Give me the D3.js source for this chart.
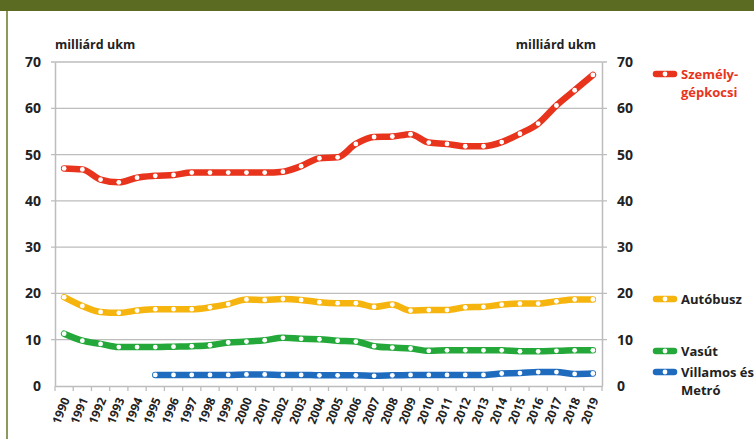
<!DOCTYPE html>
<html>
<head>
<meta charset="utf-8">
<script src="https://cdn.jsdelivr.net/npm/d3@7"></script>
<style>
  body { margin: 0; background: #fff; }
  text { font-family: "Open Sans", "DejaVu Sans", sans-serif; font-weight: 700; }
</style>
</head>
<body>
<div id="chart"></div>
<script>
// years on the x axis
var years = d3.range(1990, 2020).map(String);

// milliárd ukm
var szemelygepkocsi = [47.0, 46.8, 44.6, 44.0, 45.0, 45.4, 45.6, 46.1, 46.1, 46.1,
  46.1, 46.1, 46.3, 47.5, 49.2, 49.4, 52.3, 53.8, 53.9, 54.4,
  52.6, 52.3, 51.8, 51.8, 52.7, 54.5, 56.7, 60.6, 63.9, 67.2];
var autobusz = [19.2, 17.3, 16.0, 15.8, 16.3, 16.6, 16.6, 16.6, 17.0, 17.7,
  18.7, 18.6, 18.8, 18.6, 18.1, 17.9, 17.9, 17.1, 17.6, 16.3,
  16.4, 16.4, 17.0, 17.1, 17.6, 17.8, 17.8, 18.3, 18.7, 18.7];
var vasut = [11.3, 9.8, 9.1, 8.4, 8.4, 8.4, 8.5, 8.6, 8.8, 9.4,
  9.6, 9.9, 10.4, 10.2, 10.1, 9.8, 9.6, 8.6, 8.3, 8.1,
  7.6, 7.7, 7.7, 7.7, 7.7, 7.5, 7.5, 7.6, 7.7, 7.7];
// starts in 1995
var villamos = [null, null, null, null, null, 2.4, 2.4, 2.4, 2.4, 2.4,
  2.5, 2.5, 2.4, 2.4, 2.3, 2.3, 2.3, 2.2, 2.3, 2.4,
  2.4, 2.4, 2.4, 2.4, 2.7, 2.8, 3.0, 3.0, 2.6, 2.7];

var yTicks = [0, 10, 20, 30, 40, 50, 60, 70];

var series = [
  { name: ["Személy-", "gépkocsi"], values: szemelygepkocsi, color: "#e8341c", textColor: "#e8341c" },
  { name: ["Autóbusz"], values: autobusz, color: "#f6b40e", textColor: "#222" },
  { name: ["Vasút"], values: vasut, color: "#24a83a", textColor: "#222" },
  { name: ["Villamos és", "Metró"], values: villamos, color: "#1f6cbf", textColor: "#222" }
];
var legendY = [74, 299, 351, 372];

var W = 754, H = 439;
var svg = d3.select("#chart").append("svg").attr("width", W).attr("height", H);

svg.append("rect").attr("width", W).attr("height", H).attr("fill", "#fff");
// frame
svg.append("rect").attr("x", 0).attr("y", 0).attr("width", W).attr("height", 11).attr("fill", "#5b6b22");
svg.append("rect").attr("x", 6).attr("y", 11).attr("width", 2).attr("height", H - 11).attr("fill", "#8c9a5c");

var plotL = 55, plotR = 602, plotT = 62, plotB = 386;

var x = d3.scaleBand().domain(years).range([plotL, plotR]);
var y = d3.scaleLinear().domain([0, 70]).range([plotB, plotT]);

// gridlines
svg.append("g").selectAll("line").data(yTicks.filter(d => d > 0)).enter()
  .append("line")
  .attr("x1", plotL - 4).attr("x2", plotR + 5)
  .attr("y1", d => y(d)).attr("y2", d => y(d))
  .attr("stroke", "#bdbdbd").attr("stroke-width", 1.3);

// axes
var leftAxis = svg.append("g").attr("transform", "translate(" + plotL + ",0)")
  .call(d3.axisLeft(y).tickValues(yTicks).tickSize(0).tickPadding(14));
var rightAxis = svg.append("g").attr("transform", "translate(" + plotR + ",0)")
  .call(d3.axisRight(y).tickValues(yTicks).tickSize(0).tickPadding(15));
[leftAxis, rightAxis].forEach(function(a) {
  a.select(".domain").attr("stroke", "#bdbdbd").attr("stroke-width", 1.5);
  a.selectAll("text").attr("font-size", 14).attr("fill", "#222")
    .style("font-family", '"Open Sans", sans-serif').style("font-weight", 700);
});

var xAxis = svg.append("g").attr("transform", "translate(0," + plotB + ")")
  .call(d3.axisBottom(x).tickSize(0));
xAxis.select(".domain").attr("stroke", "#bdbdbd").attr("stroke-width", 1.5);
// tick marks at band edges
xAxis.append("g").selectAll("line").data(d3.range(years.length + 1)).enter()
  .append("line")
  .attr("x1", d => plotL + d * x.step()).attr("x2", d => plotL + d * x.step())
  .attr("y1", 0).attr("y2", 5)
  .attr("stroke", "#bdbdbd").attr("stroke-width", 1.3);
xAxis.selectAll(".tick text")
  .attr("font-size", 12).attr("fill", "#222")
  .style("font-family", '"Open Sans", sans-serif').style("font-weight", 700)
  .attr("text-anchor", "end")
  .attr("dy", "0.35em")
  .attr("transform", "translate(2,12) rotate(-68)")
  .attr("x", 0).attr("y", 0);

// unit labels
svg.append("text").attr("x", 55).attr("y", 49).attr("font-size", 12.5).attr("fill", "#222").text("milliárd ukm");
svg.append("text").attr("x", 596).attr("y", 49).attr("text-anchor", "end").attr("font-size", 12.5).attr("fill", "#222").text("milliárd ukm");

var line = d3.line()
  .defined(d => d != null)
  .x((d, i) => x(years[i]) + x.bandwidth() / 2)
  .y(d => y(d))
  .curve(d3.curveMonotoneX);

series.forEach(function(s, k) {
  var g = svg.append("g");
  g.append("path")
    .datum(s.values)
    .attr("d", line)
    .attr("fill", "none")
    .attr("stroke", s.color)
    .attr("stroke-width", 6.5)
    .attr("stroke-linecap", "round")
    .attr("stroke-linejoin", "round");
  g.selectAll("circle").data(s.values.map((v, i) => ({ v: v, i: i })).filter(d => d.v != null)).enter()
    .append("circle")
    .attr("cx", d => x(years[d.i]) + x.bandwidth() / 2)
    .attr("cy", d => y(d.v))
    .attr("r", 2.4)
    .attr("fill", "#fff");

  // legend
  var ly = legendY[k];
  g.append("line").attr("x1", 656).attr("x2", 674).attr("y1", ly).attr("y2", ly)
    .attr("stroke", s.color).attr("stroke-width", 6.5).attr("stroke-linecap", "round");
  g.append("circle").attr("cx", 665).attr("cy", ly).attr("r", 2.4).attr("fill", "#fff");
  s.name.forEach(function(t, j) {
    g.append("text").attr("x", 681).attr("y", ly + 5 + j * 18)
      .attr("font-size", 13).attr("fill", s.textColor).text(t);
  });
});
</script>
</body>
</html>
